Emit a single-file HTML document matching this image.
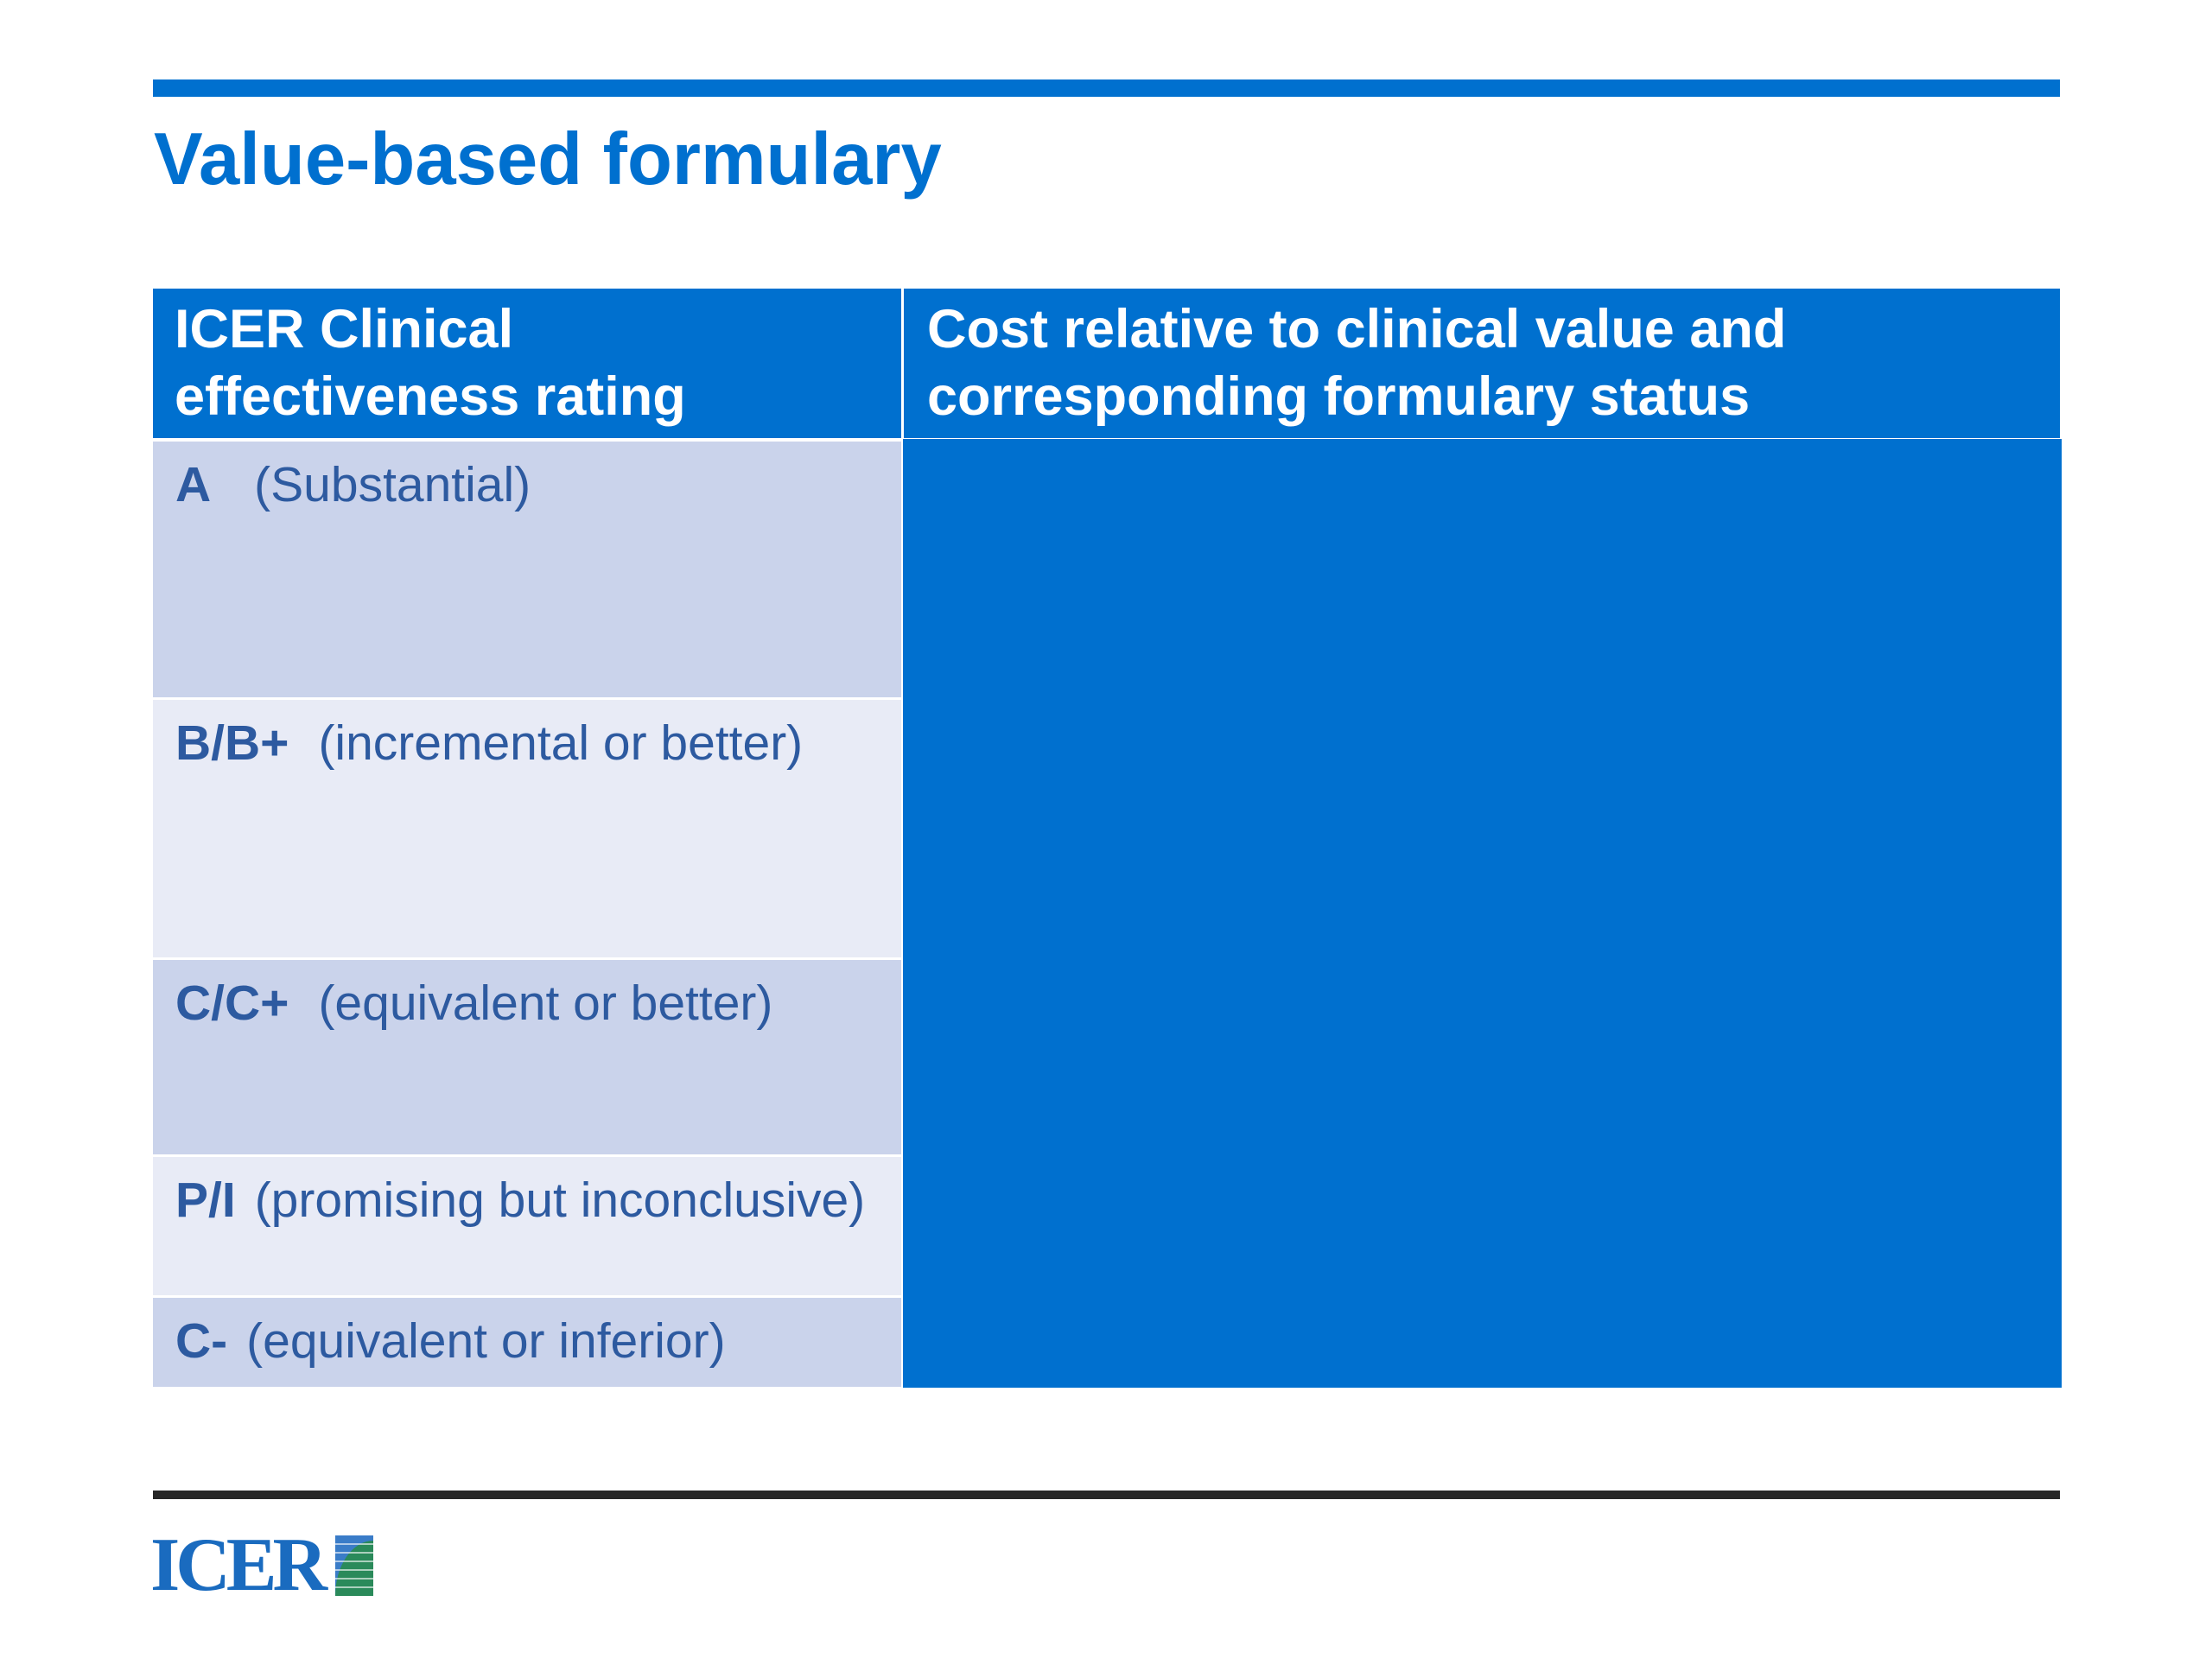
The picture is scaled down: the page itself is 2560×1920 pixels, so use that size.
<!DOCTYPE html>
<html><head><meta charset="utf-8"><style>
body{margin:0;width:2560px;height:1920px;background:#fff;position:relative;overflow:hidden;font-family:"Liberation Sans",sans-serif}
div{position:absolute;box-sizing:border-box}
.h{color:#fff;font-weight:bold;font-size:63px;line-height:78px;top:342px}
.r{left:177px;width:866px;color:#2d5aa0;font-size:57px;padding:0 0 0 26px}
.r b{font-weight:bold;margin-right:34px}
</style></head><body>
<div style="left:177px;top:92px;width:2207px;height:20px;background:#0070cf"></div>
<div style="left:178px;top:130px;font-size:85px;font-weight:bold;color:#0070cf;line-height:110px">Value-based formulary</div>
<div style="left:177px;top:334px;width:866px;height:173px;background:#0070cf"></div>
<div style="left:1046px;top:334px;width:1338px;height:173px;background:#0070cf"></div>
<div class="h" style="left:202px">ICER Clinical<br>effectiveness rating</div>
<div class="h" style="left:1073px">Cost relative to clinical value and<br>corresponding formulary status</div>
<div class="r" style="top:511px;height:296px;background:#cad3eb;line-height:100px;padding-top:0px"><b style="margin-right:50px">A</b>(Substantial)</div>
<div class="r" style="top:810px;height:298px;background:#e8ebf6;line-height:100px;padding-top:0px"><b>B/B+</b>(incremental or better)</div>
<div class="r" style="top:1111px;height:225px;background:#cad3eb;line-height:100px;padding-top:0px"><b>C/C+</b>(equivalent or better)</div>
<div class="r" style="top:1339px;height:160px;background:#e8ebf6;line-height:100px;padding-top:0px"><b style="margin-right:22px">P/I</b>(promising but inconclusive)</div>
<div class="r" style="top:1502px;height:103px;background:#cad3eb;line-height:100px;padding-top:0px"><b style="margin-right:22px">C-</b>(equivalent or inferior)</div>
<div style="left:1045px;top:508px;width:1341px;height:1098px;background:#0070cf"></div>
<div style="left:177px;top:1725px;width:2207px;height:10px;background:#262626"></div>
<div style="left:174px;top:1768px;font-family:'Liberation Serif',serif;font-weight:bold;font-size:88px;line-height:88px;color:#1a6bbf;letter-spacing:-5px">ICER</div>
<svg style="position:absolute;left:388px;top:1777px" width="44" height="70" viewBox="0 0 44 70">
<rect width="44" height="70" fill="#2a8a5a"/>
<path d="M0 0H44V6A44 64 0 0 0 0 70Z" fill="#3a7cc8"/>
<g stroke="#fff" stroke-width="2" opacity=".6"><line x1="0" y1="10" x2="44" y2="10"/><line x1="0" y1="20" x2="44" y2="20"/><line x1="0" y1="30" x2="44" y2="30"/><line x1="0" y1="40" x2="44" y2="40"/><line x1="0" y1="50" x2="44" y2="50"/><line x1="0" y1="60" x2="44" y2="60"/></g>
</svg>
</body></html>
